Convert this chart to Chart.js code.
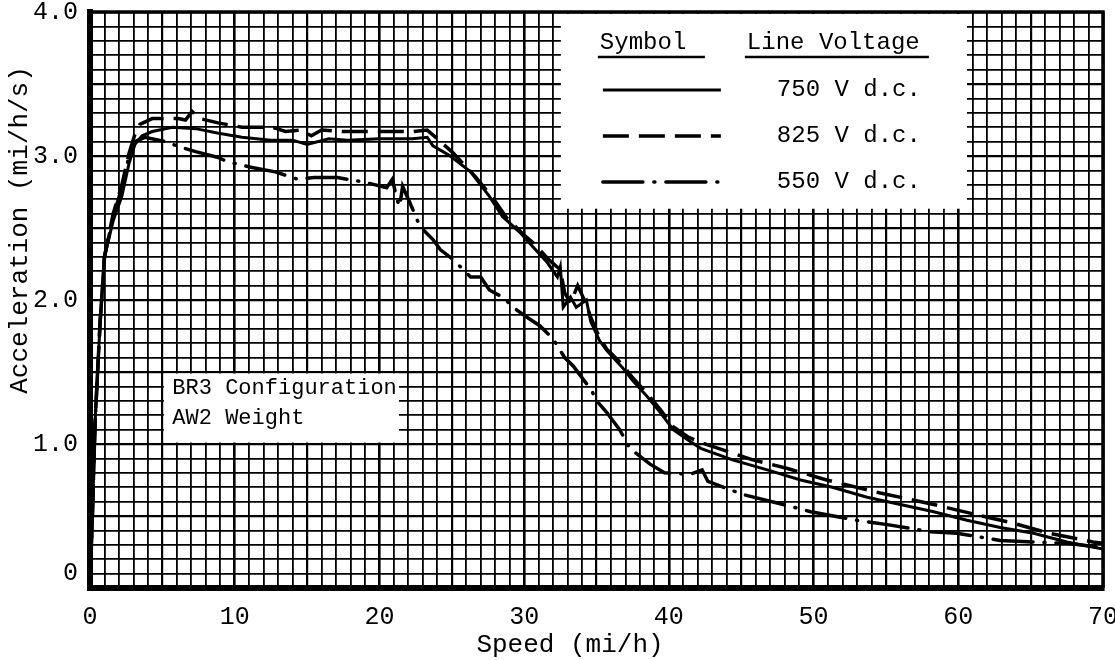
<!DOCTYPE html>
<html>
<head>
<meta charset="utf-8">
<title>Acceleration vs Speed</title>
<script src="https://cdn.jsdelivr.net/npm/chart.js@4.4.0/dist/chart.umd.min.js"></script>
<style>
  html, body { margin: 0; padding: 0; background: #fff; }
  #wrap { position: relative; width: 1115px; height: 660px; }
</style>
</head>
<body>
<div id="wrap"><canvas id="accelChart" width="1115" height="660"></canvas></div>
<script>
// Speed (mi/h) and acceleration (mi/h/s) for each line voltage
const speed750 = [0, 0.15, 0.35, 0.7, 1.0, 1.6, 2.2, 2.7, 3.1, 3.6, 4.3, 5.7, 7.3, 8.8, 10.5, 12.5, 14.0, 15.0, 16.5, 17.8, 20.0, 22.3, 23.3, 23.7, 24.9, 26.3, 27.6, 28.5, 29.7, 30.6, 31.6, 32.3, 32.5, 32.7, 33.2, 33.6, 34.3, 34.6, 35.2, 35.7, 36.8, 37.5, 38.5, 39.4, 40.3, 41.3, 42.2, 44.4, 46.8, 49.1, 51.3, 53.7, 56.0, 58.3, 60.6, 62.9, 65.2, 67.5, 70.0];
const accel750 = [0, 0.45, 1.15, 1.85, 2.30, 2.55, 2.72, 2.95, 3.08, 3.14, 3.17, 3.20, 3.19, 3.16, 3.13, 3.11, 3.11, 3.08, 3.12, 3.11, 3.12, 3.12, 3.13, 3.07, 3.00, 2.89, 2.72, 2.58, 2.47, 2.37, 2.26, 2.16, 2.23, 1.95, 2.02, 1.95, 2.00, 1.85, 1.72, 1.65, 1.53, 1.44, 1.33, 1.22, 1.10, 1.03, 0.97, 0.89, 0.82, 0.75, 0.70, 0.63, 0.58, 0.53, 0.47, 0.42, 0.38, 0.32, 0.27];

const speed825 = [0, 0.15, 0.35, 0.7, 1.0, 1.6, 2.2, 2.7, 3.1, 3.45, 4.3, 6.1, 6.6, 7.05, 7.6, 8.85, 10.5, 12.6, 13.5, 14.5, 15.3, 16.0, 17.5, 20.0, 22.3, 23.3, 24.0, 25.1, 26.6, 27.9, 28.8, 30.0, 30.6, 31.7, 32.5, 32.8, 33.2, 33.7, 34.3, 34.6, 35.2, 35.7, 36.8, 37.5, 38.5, 39.4, 40.3, 41.3, 42.2, 45.8, 48.2, 50.9, 54.6, 58.3, 60.8, 63.8, 66.3, 69.3, 70.0];
const accel825 = [0, 0.45, 1.15, 1.85, 2.30, 2.60, 2.80, 3.02, 3.15, 3.22, 3.26, 3.26, 3.25, 3.31, 3.26, 3.23, 3.20, 3.20, 3.17, 3.18, 3.14, 3.18, 3.17, 3.17, 3.17, 3.18, 3.12, 3.02, 2.86, 2.70, 2.57, 2.45, 2.40, 2.28, 2.21, 2.05, 1.98, 2.10, 1.97, 1.88, 1.74, 1.66, 1.55, 1.46, 1.35, 1.24, 1.12, 1.05, 1.01, 0.89, 0.83, 0.75, 0.66, 0.58, 0.52, 0.45, 0.38, 0.32, 0.31];

const speed550 = [0, 0.15, 0.35, 0.7, 1.0, 1.6, 2.2, 2.7, 3.1, 3.8, 5.2, 6.0, 7.3, 8.85, 9.5, 11.2, 12.8, 14.3, 15.5, 17.1, 18.9, 20.5, 20.9, 21.2, 21.4, 21.6, 22.0, 22.3, 22.8, 23.7, 24.2, 25.1, 26.3, 27.0, 27.6, 28.5, 29.5, 30.2, 31.1, 32.0, 32.8, 33.4, 34.6, 35.1, 35.7, 36.6, 37.3, 38.7, 39.7, 41.5, 42.3, 42.7, 45.1, 47.9, 49.8, 53.0, 55.1, 58.1, 59.9, 62.9, 65.2, 67.5, 70.0];
const accel550 = [0, 0.45, 1.15, 1.85, 2.30, 2.58, 2.78, 3.00, 3.10, 3.13, 3.10, 3.07, 3.03, 2.99, 2.96, 2.92, 2.89, 2.84, 2.85, 2.85, 2.82, 2.78, 2.84, 2.70, 2.65, 2.79, 2.70, 2.63, 2.51, 2.42, 2.35, 2.28, 2.16, 2.16, 2.07, 2.02, 1.93, 1.88, 1.82, 1.73, 1.60, 1.54, 1.38, 1.29, 1.22, 1.10, 0.97, 0.86, 0.80, 0.79, 0.82, 0.74, 0.65, 0.58, 0.53, 0.47, 0.44, 0.39, 0.38, 0.33, 0.32, 0.31, 0.28];

const voltageLabels = ['750 V d.c.', '825 V d.c.', '550 V d.c.'];
const noteLines = ['BR3 Configuration', 'AW2 Weight'];

const MONO = "'Liberation Mono', 'Courier New', monospace";

function toPoints(xs, ys) {
    return xs.map((x, i) => ({ x: x, y: ys[i] }));
}

// blank panels on the graph paper (in axis units)
const legendPanel = { x0: 32.4, x1: 60.6, y0: 2.62, y1: 4.0 };
const notePanel = { x0: 5.0, x1: 21.35, y0: 1.0, y1: 1.5 };

function clearPanel(ctx, x, y, p, inset) {
    const left = x.getPixelForValue(p.x0) + inset;
    const right = x.getPixelForValue(p.x1);
    const top = y.getPixelForValue(p.y1) + inset;
    const bottom = y.getPixelForValue(p.y0) - inset;
    ctx.fillRect(left, top, right - left, bottom - top);
}

const graphPaper = {
    id: 'graphPaper',
    beforeDatasetsDraw(chart) {
        const { ctx, scales: { x, y } } = chart;
        ctx.save();
        ctx.fillStyle = '#fff';
        clearPanel(ctx, x, y, legendPanel, 2);
        clearPanel(ctx, x, y, notePanel, 1.5);
        ctx.restore();
    },
    afterDraw(chart) {
        const { ctx, chartArea: area, scales: { x, y } } = chart;
        ctx.save();
        ctx.strokeStyle = '#000';
        ctx.fillStyle = '#000';

        // top and right edges of the frame
        ctx.lineWidth = 3.5;
        ctx.beginPath();
        ctx.moveTo(area.left, area.top);
        ctx.lineTo(area.right, area.top);
        ctx.lineTo(area.right, area.bottom);
        ctx.stroke();

        // legend: symbol / line voltage table
        const lx = x.getPixelForValue(legendPanel.x0);
        const ly = area.top;
        ctx.font = '24px ' + MONO;
        ctx.textBaseline = 'middle';
        ctx.textAlign = 'left';
        ctx.fillText('Symbol', lx + 41, ly + 31);
        ctx.fillText('Line Voltage', lx + 188, ly + 31);
        ctx.lineWidth = 2.5;
        ctx.beginPath();
        ctx.moveTo(lx + 39, ly + 45);
        ctx.lineTo(lx + 146, ly + 45);
        ctx.moveTo(lx + 186, ly + 45);
        ctx.lineTo(lx + 370, ly + 45);
        ctx.stroke();

        chart.data.datasets.forEach((ds, i) => {
            const rowY = ly + 78 + i * 46;
            ctx.save();
            ctx.lineWidth = ds.borderWidth;
            ctx.lineCap = ds.borderCapStyle || 'butt';
            ctx.setLineDash(ds.borderDash || []);
            ctx.beginPath();
            ctx.moveTo(lx + 44, rowY);
            ctx.lineTo(lx + 162, rowY);
            ctx.stroke();
            ctx.restore();
            ctx.fillText(voltageLabels[i], lx + 218, rowY);
        });

        // configuration note
        const nx = x.getPixelForValue(notePanel.x0);
        const ny = y.getPixelForValue(notePanel.y1);
        ctx.font = '22px ' + MONO;
        noteLines.forEach((line, i) => {
            ctx.fillText(line, nx + 10, ny + 16 + i * 30);
        });

        // axis titles
        ctx.font = '26px ' + MONO;
        ctx.textAlign = 'center';
        ctx.fillText('Speed (mi/h)', area.left + 480, area.bottom + 57);
        ctx.translate(20, area.top + 218);
        ctx.rotate(-Math.PI / 2);
        ctx.fillText('Acceleration (mi/h/s)', 0, 0);
        ctx.restore();
    }
};

document.addEventListener('DOMContentLoaded', function() {
    const ctx = document.getElementById('accelChart').getContext('2d');
    new Chart(ctx, {
        type: 'line',
        data: {
            datasets: [{
                label: voltageLabels[0],
                data: toPoints(speed750, accel750),
                borderColor: '#000',
                borderWidth: 3,
                borderCapStyle: 'butt'
            }, {
                label: voltageLabels[1],
                data: toPoints(speed825, accel825),
                borderColor: '#000',
                borderWidth: 3.5,
                borderDash: [26, 10],
                borderCapStyle: 'butt'
            }, {
                label: voltageLabels[2],
                data: toPoints(speed550, accel550),
                borderColor: '#000',
                borderWidth: 3.5,
                borderDash: [40, 11, 1, 11],
                borderCapStyle: 'round'
            }]
        },
        options: {
            responsive: false,
            animation: false,
            layout: { padding: { top: 12, right: 12, left: 0, bottom: 0 } },
            elements: {
                point: { radius: 0 },
                line: { tension: 0, fill: false }
            },
            plugins: {
                legend: { display: false },
                tooltip: { enabled: false }
            },
            scales: {
                x: {
                    type: 'linear',
                    min: 0,
                    max: 70,
                    ticks: {
                        stepSize: 1,
                        autoSkip: false,
                        maxRotation: 0,
                        padding: 14,
                        color: '#000',
                        font: { family: MONO, size: 25 },
                        callback: v => (v % 10 === 0 ? String(v) : '')
                    },
                    grid: {
                        color: '#000',
                        drawTicks: false,
                        lineWidth: c => (c.tick.value % 10 === 0 ? 2.6 : (c.tick.value % 5 === 0 ? 2.2 : 1.8))
                    },
                    border: { display: true, color: '#000', width: 6 },
                    afterFit: s => {
                        s.height = 72;
                        s.paddingLeft = 0;
                        s.paddingRight = 0;
                    }
                },
                y: {
                    type: 'linear',
                    min: 0,
                    max: 4,
                    ticks: {
                        stepSize: 0.1,
                        autoSkip: false,
                        padding: 12,
                        color: '#000',
                        font: { family: MONO, size: 25 },
                        callback: v => {
                            const t = Math.round(v * 10);
                            if (t % 10 !== 0) return '';
                            // lift the zero clear of the speed labels
                            return t === 0 ? ['0', ''] : (t / 10).toFixed(1);
                        }
                    },
                    grid: {
                        color: '#000',
                        drawTicks: false,
                        lineWidth: c => (Math.round(c.tick.value * 10) % 5 === 0 ? 2.3 : 1.8)
                    },
                    border: { display: true, color: '#000', width: 6 },
                    afterFit: s => {
                        s.width = 90;
                        s.paddingTop = 0;
                        s.paddingBottom = 0;
                    }
                }
            }
        },
        plugins: [graphPaper]
    });
});
</script>
</body>
</html>
